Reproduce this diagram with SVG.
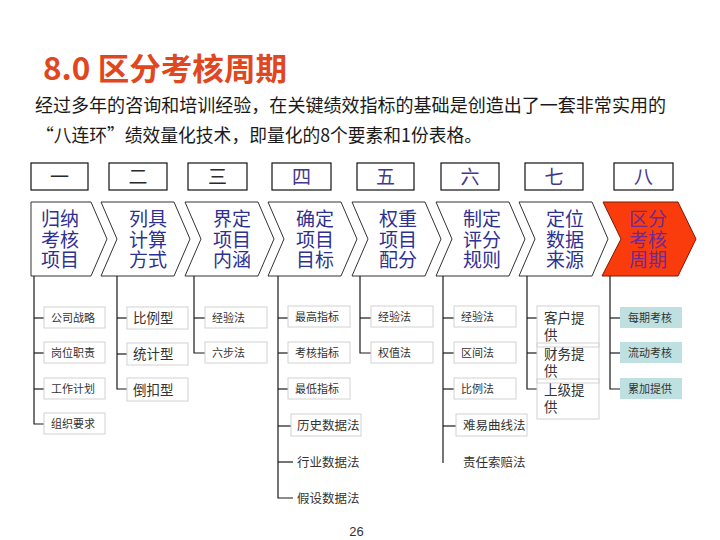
<svg xmlns="http://www.w3.org/2000/svg" width="720" height="540" viewBox="0 0 720 540">
<style>
.cjk{font-family:"Noto Sans CJK SC","Noto Sans",sans-serif}
.title{font-size:31px;font-weight:700;fill:#E0471E}
.para{font-size:18.5px;fill:#1a1a1a}
.numbox{fill:#fff;stroke:#111;stroke-width:1.2}
.num{font-size:19px;text-anchor:middle;fill:#2a2a2a}
.num2{font-size:19px;text-anchor:middle;fill:#45388a}
.chev{fill:#fff;stroke:#333;stroke-width:1}
.chevred{fill:#FA3C0C;stroke:#7a1a05;stroke-width:1}
.ct{font-size:19px;text-anchor:middle;fill:#2E3192}
.ctred{font-size:19px;text-anchor:middle;fill:#6E2A96}
.box{fill:#fff;stroke:#d2d2d2;stroke-width:1}
.boxo{fill:none;stroke:#d2d2d2;stroke-width:1}
.teal{fill:#BFE0E0}
.s{font-size:11px;fill:#333}
.m{font-size:12.5px;fill:#333}
.l{font-size:13.5px;fill:#333}
.conn line,.conn polyline{stroke:#1a1a1a;stroke-width:1.2;fill:none}
</style>
<rect width="720" height="540" fill="#fff"/>

<g id="title">
<text class="cjk title" x="43" y="80" textLength="244" lengthAdjust="spacingAndGlyphs">8.0 区分考核周期</text>
</g>
<g id="intro">
<text class="cjk para" x="35" y="112" textLength="631" lengthAdjust="spacingAndGlyphs">经过多年的咨询和培训经验，在关键绩效指标的基础是创造出了一套非常实用的</text>
<text class="cjk para" x="36" y="142" textLength="446" lengthAdjust="spacingAndGlyphs">“八连环”绩效量化技术，即量化的8个要素和1份表格。</text>
</g>

<g id="numbers">
<g id="n1"><rect class="numbox" x="31" y="163" width="57" height="27"/><text class="cjk num" x="59.5" y="183.5">一</text></g>
<g id="n2"><rect class="numbox" x="109" y="163" width="58" height="27"/><text class="cjk num" x="138" y="183.5">二</text></g>
<g id="n3"><rect class="numbox" x="188" y="163" width="59" height="27"/><text class="cjk num" x="217.5" y="183.5">三</text></g>
<g id="n4"><rect class="numbox" x="272" y="163" width="59" height="27"/><text class="cjk num2" x="301.5" y="183.5">四</text></g>
<g id="n5"><rect class="numbox" x="357" y="163" width="57" height="27"/><text class="cjk num2" x="385.5" y="183.5">五</text></g>
<g id="n6"><rect class="numbox" x="441" y="163" width="58" height="27"/><text class="cjk num2" x="470" y="183.5">六</text></g>
<g id="n7"><rect class="numbox" x="525" y="163" width="58" height="27"/><text class="cjk num2" x="554" y="183.5">七</text></g>
<g id="n8"><rect class="numbox" x="614" y="163" width="59" height="27"/><text class="cjk num2" x="643.5" y="183.5">八</text></g>
</g>

<g id="chevrons">
<g id="c1"><path class="chev" d="M31,202 L91,202 L107,239 L91,276 L31,276 Z"/>
<text class="cjk ct" x="60" y="226"><tspan x="60">归纳</tspan><tspan x="60" dy="20.5">考核</tspan><tspan x="60" dy="20.5">项目</tspan></text></g>
<g id="c2"><path class="chev" d="M101,202 L174,202 L190,239 L174,276 L101,276 L117,239 Z"/>
<text class="cjk ct" x="148" y="226"><tspan x="148">列具</tspan><tspan x="148" dy="20.5">计算</tspan><tspan x="148" dy="20.5">方式</tspan></text></g>
<g id="c3"><path class="chev" d="M185,202 L258,202 L274,239 L258,276 L185,276 L201,239 Z"/>
<text class="cjk ct" x="232" y="226"><tspan x="232">界定</tspan><tspan x="232" dy="20.5">项目</tspan><tspan x="232" dy="20.5">内涵</tspan></text></g>
<g id="c4"><path class="chev" d="M268,202 L341,202 L357,239 L341,276 L268,276 L284,239 Z"/>
<text class="cjk ct" x="315" y="226"><tspan x="315">确定</tspan><tspan x="315" dy="20.5">项目</tspan><tspan x="315" dy="20.5">目标</tspan></text></g>
<g id="c5"><path class="chev" d="M352,202 L425,202 L441,239 L425,276 L352,276 L368,239 Z"/>
<text class="cjk ct" x="398" y="226"><tspan x="398">权重</tspan><tspan x="398" dy="20.5">项目</tspan><tspan x="398" dy="20.5">配分</tspan></text></g>
<g id="c6"><path class="chev" d="M436,202 L509,202 L525,239 L509,276 L436,276 L452,239 Z"/>
<text class="cjk ct" x="482" y="226"><tspan x="482">制定</tspan><tspan x="482" dy="20.5">评分</tspan><tspan x="482" dy="20.5">规则</tspan></text></g>
<g id="c7"><path class="chev" d="M519,202 L592,202 L608,239 L592,276 L519,276 L535,239 Z"/>
<text class="cjk ct" x="565" y="226"><tspan x="565">定位</tspan><tspan x="565" dy="20.5">数据</tspan><tspan x="565" dy="20.5">来源</tspan></text></g>
<g id="c8"><path class="chevred" d="M603,202 L678,202 L696,239 L678,276 L602,276 L621,239 Z"/>
<text class="cjk ctred" x="648" y="226"><tspan x="648">区分</tspan><tspan x="648" dy="20.5">考核</tspan><tspan x="648" dy="20.5">周期</tspan></text></g>
</g>

<g id="connectors" class="conn">
<polyline points="34,276 34,424 44,424"/>
<line x1="34" y1="318" x2="44" y2="318"/><line x1="34" y1="353" x2="44" y2="353"/><line x1="34" y1="389" x2="44" y2="389"/>
<polyline points="117,276 117,389 127,389"/>
<line x1="117" y1="318" x2="127" y2="318"/><line x1="117" y1="354" x2="127" y2="354"/>
<polyline points="194,276 194,353 205,353"/>
<line x1="194" y1="318" x2="205" y2="318"/>
<polyline points="278,276 278,498 293,498"/>
<line x1="278" y1="318" x2="288" y2="318"/><line x1="278" y1="353" x2="288" y2="353"/><line x1="278" y1="389" x2="288" y2="389"/><line x1="278" y1="426" x2="291" y2="426"/><line x1="278" y1="462" x2="293" y2="462"/>
<polyline points="360,276 360,353 371,353"/>
<line x1="360" y1="318" x2="371" y2="318"/>
<line x1="443" y1="276" x2="443" y2="463"/>
<line x1="443" y1="318" x2="454" y2="318"/><line x1="443" y1="353" x2="454" y2="353"/><line x1="443" y1="389" x2="454" y2="389"/><line x1="443" y1="426" x2="456" y2="426"/>
<polyline points="527,276 527,389 537,389"/>
<line x1="527" y1="318" x2="537" y2="318"/><line x1="527" y1="353" x2="537" y2="353"/>
<polyline points="610,276 610,389 620,389"/>
<line x1="610" y1="318" x2="620" y2="318"/><line x1="610" y1="353" x2="620" y2="353"/>
</g>

<g id="col1">
<g id="i1a"><rect class="box" x="44" y="307" width="61" height="21"/><text class="cjk s" x="51" y="321.5">公司战略</text></g>
<g id="i1b"><rect class="box" x="44" y="342" width="61" height="21"/><text class="cjk s" x="51" y="356.5">岗位职责</text></g>
<g id="i1c"><rect class="box" x="44" y="378" width="61" height="21"/><text class="cjk s" x="51" y="392.5">工作计划</text></g>
<g id="i1d"><rect class="box" x="44" y="413" width="61" height="21"/><text class="cjk s" x="51" y="427.5">组织要求</text></g>
</g>
<g id="col2">
<g id="i2a"><rect class="box" x="127" y="307" width="61" height="22"/><text class="cjk l" x="133" y="323">比例型</text></g>
<g id="i2b"><rect class="box" x="127" y="343" width="61" height="22"/><text class="cjk l" x="133" y="359">统计型</text></g>
<g id="i2c"><rect class="box" x="127" y="378" width="61" height="23"/><text class="cjk l" x="133" y="394.5">倒扣型</text></g>
</g>
<g id="col3">
<g id="i3a"><rect class="box" x="205" y="307" width="62" height="21"/><text class="cjk s" x="212" y="321.5">经验法</text></g>
<g id="i3b"><rect class="box" x="205" y="342" width="62" height="21"/><text class="cjk s" x="212" y="356.5">六步法</text></g>
</g>
<g id="col4">
<g id="i4a"><rect class="box" x="288" y="306" width="62" height="21"/><text class="cjk s" x="295" y="320.5">最高指标</text></g>
<g id="i4b"><rect class="box" x="288" y="342" width="62" height="21"/><text class="cjk s" x="295" y="356.5">考核指标</text></g>
<g id="i4c"><rect class="box" x="288" y="378" width="62" height="21"/><text class="cjk s" x="295" y="392.5">最低指标</text></g>
<g id="i4d"><rect class="box" x="291" y="414" width="70" height="22"/><text class="cjk m" x="297" y="429.5">历史数据法</text></g>
<g id="i4e"><text class="cjk m" x="297" y="466.5">行业数据法</text></g>
<g id="i4f"><text class="cjk m" x="297" y="502.5">假设数据法</text></g>
</g>
<g id="col5">
<g id="i5a"><rect class="box" x="371" y="306" width="62" height="21"/><text class="cjk s" x="378" y="320.5">经验法</text></g>
<g id="i5b"><rect class="box" x="371" y="342" width="62" height="21"/><text class="cjk s" x="378" y="356.5">权值法</text></g>
</g>
<g id="col6">
<g id="i6a"><rect class="box" x="454" y="306" width="62" height="21"/><text class="cjk s" x="461" y="320.5">经验法</text></g>
<g id="i6b"><rect class="box" x="454" y="342" width="62" height="21"/><text class="cjk s" x="461" y="356.5">区间法</text></g>
<g id="i6c"><rect class="box" x="454" y="378" width="62" height="21"/><text class="cjk s" x="461" y="392.5">比例法</text></g>
<g id="i6d"><rect class="box" x="456" y="414" width="71" height="22"/><text class="cjk m" x="463" y="429.5">难易曲线法</text></g>
<g id="i6e"><text class="cjk m" x="463" y="466.5">责任索赔法</text></g>
</g>
<g id="col7">
<g id="i7a"><rect class="boxo" x="537" y="306" width="62" height="41"/><text class="cjk l" x="544" y="323"><tspan x="544">客户提</tspan><tspan x="544" dy="17">供</tspan></text></g>
<g id="i7b"><rect class="boxo" x="537" y="343" width="62" height="40"/><text class="cjk l" x="544" y="359"><tspan x="544">财务提</tspan><tspan x="544" dy="17">供</tspan></text></g>
<g id="i7c"><rect class="boxo" x="537" y="379" width="62" height="40"/><text class="cjk l" x="544" y="395"><tspan x="544">上级提</tspan><tspan x="544" dy="17">供</tspan></text></g>
</g>
<g id="col8">
<g id="i8a"><rect class="teal" x="620" y="307" width="62" height="21"/><text class="cjk s" x="628" y="321.5">每期考核</text></g>
<g id="i8b"><rect class="teal" x="620" y="342" width="62" height="21"/><text class="cjk s" x="628" y="356.5">流动考核</text></g>
<g id="i8c"><rect class="teal" x="620" y="378" width="62" height="21"/><text class="cjk s" x="628" y="392.5">累加提供</text></g>
</g>

<g id="page">
<text x="356.5" y="536" font-family="Liberation Sans, Arial, sans-serif" font-size="13" fill="#333" text-anchor="middle">26</text>
</g>
</svg>
